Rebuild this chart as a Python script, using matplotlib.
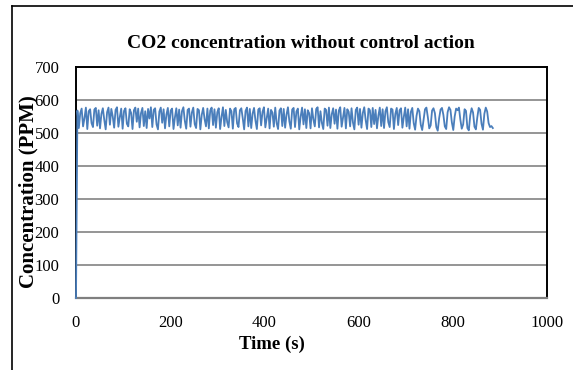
import numpy as np
import matplotlib
matplotlib.use("Agg")
import matplotlib.pyplot as plt
from matplotlib.lines import Line2D

plt.rcParams['font.family'] = ['Liberation Serif', 'DejaVu Serif']

title = "CO2 concentration without control action"
x_label = "Time (s)"
y_label = "Concentration (PPM)"
x_ticks = [0, 200, 400, 600, 800, 1000]
y_ticks = [0, 100, 200, 300, 400, 500, 600, 700]

sample_step_s = 3
co2_ppm = [
    0, 568, 515, 560, 574, 520, 545, 577, 512, 566,
    572, 530, 518, 571, 576, 522, 569, 514, 558, 575,
    540, 511, 563, 577, 525, 573, 550, 516, 570, 578,
    519, 548, 574, 513, 567, 575, 528, 520, 572, 561,
    512, 569, 577, 534, 574, 517, 560, 576, 521, 566,
    515, 573, 544, 578, 518, 570, 575, 526, 511, 565,
    577, 531, 572, 514, 556, 576, 520, 568, 574, 512,
    547, 575, 523, 571, 516, 566, 578, 537, 513, 570,
    574, 519, 562, 577, 527, 515, 573, 569, 511, 555,
    576, 542, 520, 574, 514, 568, 577, 524, 572, 516,
    563, 575, 512, 549, 578, 521, 570, 533, 517, 574,
    566, 513, 572, 576, 529, 518, 569, 575, 545, 511,
    567, 577, 520, 573, 515, 559, 576, 538, 512, 571,
    575, 523, 564, 578, 517, 546, 574, 514, 570, 562,
    519, 577, 530, 512, 568, 575, 521, 573, 516, 556,
    578, 535, 513, 571, 576, 518, 565, 574, 511, 550,
    577, 526, 572, 515, 569, 560, 514, 575, 541, 520,
    573, 578, 517, 566, 531, 512, 574, 570, 522, 577,
    515, 557, 575, 528, 571, 513, 568, 578, 519, 547,
    576, 514, 572, 564, 520, 575, 532, 511, 570, 577,
    525, 573, 516, 561, 578, 539, 512, 574, 569, 518,
    576, 527, 570, 514, 553, 577, 521, 572, 515, 566,
    578, 533, 518, 574, 571, 512, 558, 576, 524, 569,
    575, 516, 549, 577, 520, 572, 513, 564, 576, 530,
    510, 552, 574, 566, 525, 509, 540, 572, 577, 548,
    514, 523, 568, 575, 560, 518, 507, 545, 571, 576,
    555, 520, 512, 563, 578, 570, 532, 509, 550, 574,
    569, 577, 541, 513, 526, 572, 567, 515, 508, 553,
    575, 562, 519, 511, 547, 576, 570, 528, 510, 558,
    577, 565, 530, 518, 521, 515,
]
time_s = np.arange(len(co2_ppm)) * sample_step_s

W, H = 573, 370
fig = plt.figure(figsize=(W / 100, H / 100), dpi=100)
fig.patch.set_facecolor('white')

ax = fig.add_axes([76 / W, 1 - 298 / H, (547 - 76) / W, (298 - 67) / H])
ax.set_xlim(0, 1000)
ax.set_ylim(0, 700)
ax.set_xticks(x_ticks)
ax.set_yticks(y_ticks)
ax.tick_params(axis='both', length=0, labelsize=12)
ax.tick_params(axis='y', pad=12)
ax.tick_params(axis='x', pad=12)
ax.grid(axis='y', color='#8c8c8c', linewidth=1.3)
ax.set_axisbelow(True)
for side in ['top', 'right', 'left']:
    ax.spines[side].set_color('black')
    ax.spines[side].set_linewidth(1.4)
ax.spines['bottom'].set_color('#7f7f7f')
ax.spines['bottom'].set_linewidth(1.6)

ax.plot(time_s, co2_ppm, color='#4A7EBB', linewidth=1.3, zorder=3, clip_on=False)

fig.text(301 / W, 1 - 43 / H, title, ha='center', va='center',
         fontsize=14, fontweight='bold')
fig.text(272 / W, 1 - 344 / H, x_label, ha='center', va='center',
         fontsize=13.5, fontweight='bold')
fig.text(28 / W, 1 - 192 / H, y_label, ha='center', va='center',
         rotation=90, fontsize=15, fontweight='bold')

# outer chart frame (left and top edges visible)
fig.add_artist(Line2D([12 / W, 12 / W], [0, 1 - 6 / H], color='black',
                      linewidth=1.2, transform=fig.transFigure))
fig.add_artist(Line2D([12 / W, 1], [1 - 6 / H, 1 - 6 / H], color='black',
                      linewidth=1.2, transform=fig.transFigure))

fig.savefig('out.png', dpi=100)
